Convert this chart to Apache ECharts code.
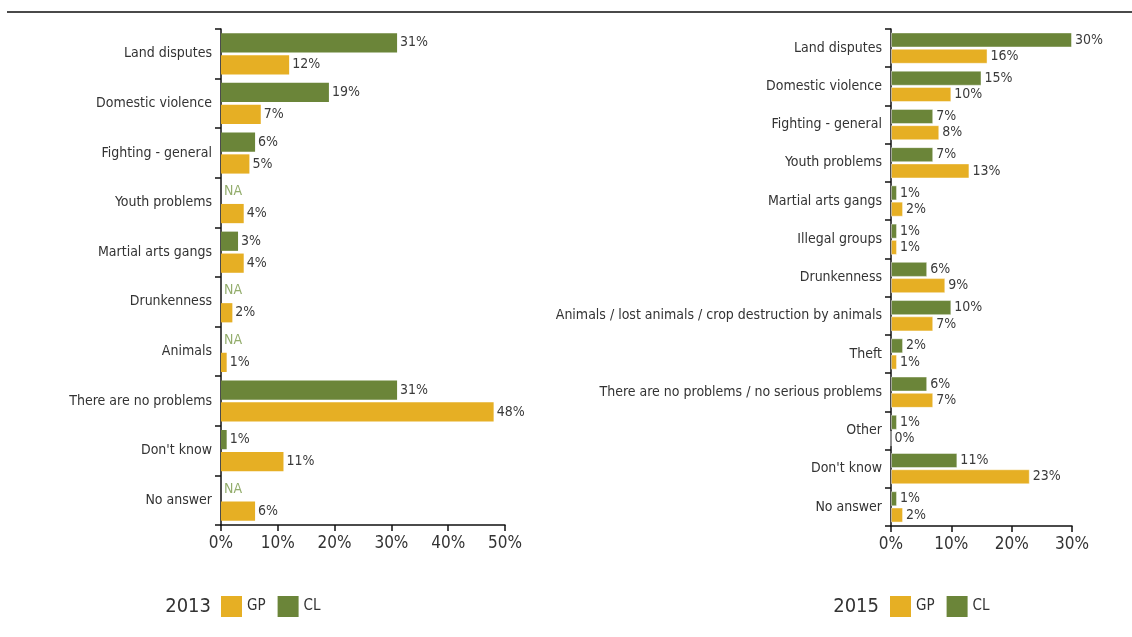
<!DOCTYPE html>
<html>
<head>
<meta charset="utf-8">
<script src="https://cdn.jsdelivr.net/npm/echarts@6/dist/echarts.min.js"></script>
<style>
  html, body { margin: 0; padding: 0; background: #fff; }
  #chart { width: 1132px; height: 637px; }
</style>
</head>
<body>
<div id="chart"></div>
<script>
// Local problems reported by respondents, 2013 and 2015 surveys (GP vs CL)
const categories2013 = ['Land disputes', 'Domestic violence', 'Fighting - general', 'Youth problems',
  'Martial arts gangs', 'Drunkenness', 'Animals', 'There are no problems', "Don't know", 'No answer'];
const gp2013 = [12, 7, 5, 4, 4, 2, 1, 48, 11, 6];
const cl2013 = [31, 19, 6, null, 3, null, null, 31, 1, null]; // null = not asked (NA)

const categories2015 = ['Land disputes', 'Domestic violence', 'Fighting - general', 'Youth problems',
  'Martial arts gangs', 'Illegal groups', 'Drunkenness',
  'Animals / lost animals / crop destruction by animals', 'Theft',
  'There are no problems / no serious problems', 'Other', "Don't know", 'No answer'];
const gp2015 = [16, 10, 8, 13, 2, 1, 9, 7, 1, 7, 0, 23, 2];
const cl2015 = [30, 15, 7, 7, 1, 1, 6, 10, 2, 6, 1, 11, 1];

const xTicks2013 = { min: 0, max: 50, interval: 10 };
const xTicks2015 = { min: 0, max: 30, interval: 10 };

const GP_COLOR = '#E6AF24';
const CL_COLOR = '#6B8539';
const NA_COLOR = '#93AD6C';
const FONT = '"Liberation Sans Narrow", "DejaVu Sans Condensed", sans-serif';
const TEXT = '#333333';

function withNA(values) {
  return values.map(v => v === null
    ? { value: 0, label: { formatter: 'NA', color: NA_COLOR } }
    : v);
}

function xAxis(gridIndex, ticks) {
  return {
    type: 'value', gridIndex,
    min: ticks.min, max: ticks.max, interval: ticks.interval,
    splitLine: { show: false },
    axisLine: { show: true, lineStyle: { color: '#111', width: 1.5 } },
    axisTick: { show: true, length: 6, lineStyle: { color: '#111', width: 1.5 } },
    axisLabel: { formatter: '{value}%', fontFamily: FONT, fontSize: 17, color: TEXT, margin: 10 }
  };
}

function yAxis(gridIndex, cats) {
  return {
    type: 'category', gridIndex, data: cats, inverse: true,
    axisLine: { show: true, lineStyle: { color: '#111', width: 1.5 } },
    axisTick: { show: true, length: 6, lineStyle: { color: '#111', width: 1.5 } },
    axisLabel: { fontFamily: FONT, fontSize: 14, color: TEXT, margin: 9 }
  };
}

function barSeries(name, idx, data, color, gap, catGap, border) {
  return {
    name, type: 'bar', xAxisIndex: idx, yAxisIndex: idx, data,
    barGap: gap, barCategoryGap: catGap,
    itemStyle: { color, borderColor: border ? 'rgba(255,255,255,0.45)' : undefined, borderWidth: border ? 1 : 0 },
    label: {
      show: true, position: 'right', distance: 3, formatter: '{c}%',
      fontFamily: FONT, fontSize: 14, color: '#3a3a3a'
    },
    emphasis: { disabled: true }
  };
}

function legend(left, top) {
  return {
    data: ['GP', 'CL'], left, top, orient: 'horizontal', padding: 0,
    icon: 'rect', itemWidth: 21, itemHeight: 21, itemGap: 12,
    selectedMode: false,
    textStyle: { fontFamily: FONT, fontSize: 15, color: TEXT }
  };
}

const chart = echarts.init(document.getElementById('chart'), null, { renderer: 'canvas' });
chart.setOption({
  animation: false,
  backgroundColor: '#ffffff',
  grid: [
    { left: 221, right: 627, top: 29, bottom: 112 },
    { left: 891, right: 60, top: 29, bottom: 111 }
  ],
  xAxis: [xAxis(0, xTicks2013), xAxis(1, xTicks2015)],
  yAxis: [yAxis(0, categories2013), yAxis(1, categories2015)],
  legend: [legend(221, 596), legend(890, 596)],
  series: [
    barSeries('CL', 0, withNA(cl2013), CL_COLOR, '14%', '17%', false),
    barSeries('GP', 0, gp2013, GP_COLOR, '14%', '17%', false),
    barSeries('CL', 1, cl2015, CL_COLOR, '8%', '18%', true),
    barSeries('GP', 1, gp2015, GP_COLOR, '8%', '18%', true)
  ],
  graphic: [
    { type: 'line', shape: { x1: 7, y1: 12, x2: 1132, y2: 12 }, style: { stroke: '#4a4a4a', lineWidth: 2 } },
    { type: 'text', x: 211, y: 607, style: { text: '2013', font: '20px ' + FONT, fill: TEXT, align: 'right', verticalAlign: 'middle' } },
    { type: 'text', x: 879, y: 607, style: { text: '2015', font: '20px ' + FONT, fill: TEXT, align: 'right', verticalAlign: 'middle' } }
  ]
});
</script>
</body>
</html>
